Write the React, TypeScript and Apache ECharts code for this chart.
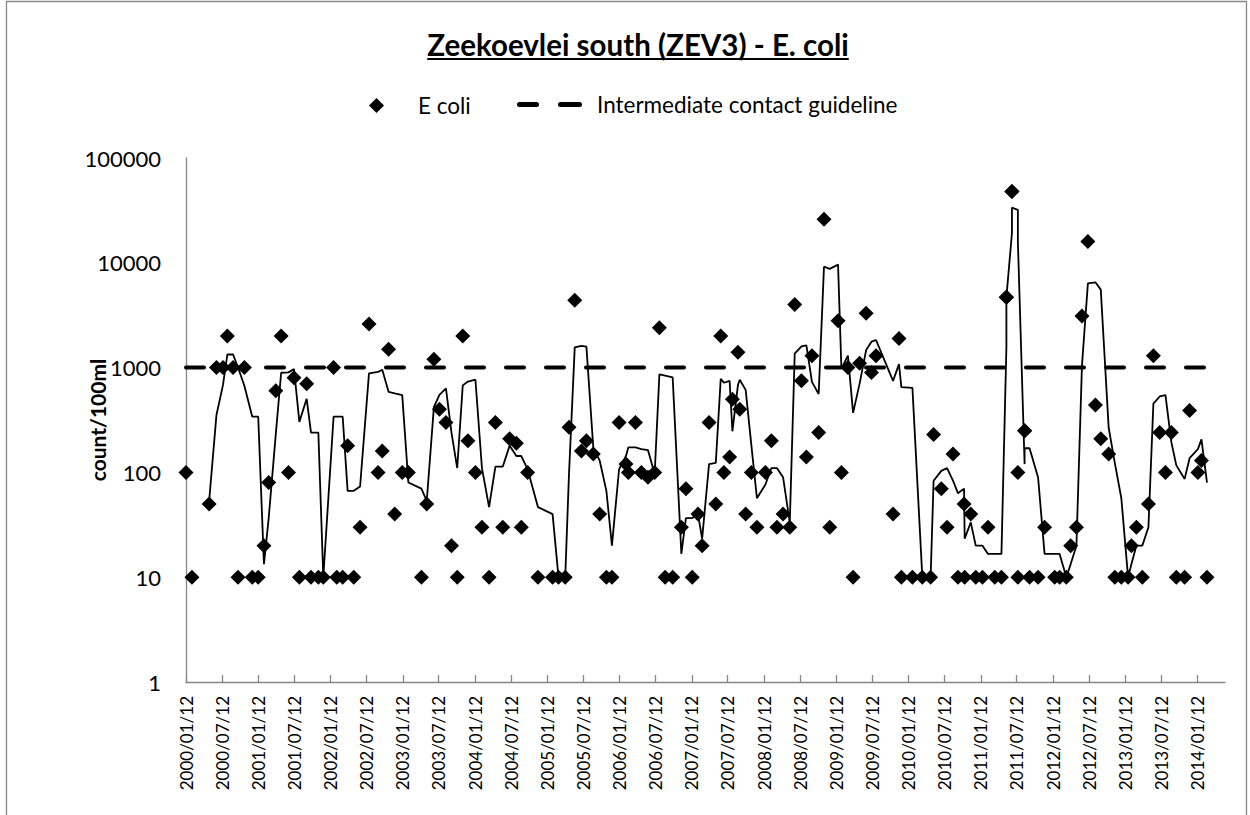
import React, { useEffect, useRef } from "react";
import * as echarts from "echarts";

const chartTitle = "Zeekoevlei south (ZEV3) - E. coli";
const seriesName = "E coli";
const guidelineName = "Intermediate contact guideline";
const yAxisName = "count/100ml";
const guidelineValue = 1000;

const xTickLabels = [
  "2000/01/12", "2000/07/12", "2001/01/12", "2001/07/12", "2002/01/12", "2002/07/12",
  "2003/01/12", "2003/07/12", "2004/01/12", "2004/07/12", "2005/01/12", "2005/07/12",
  "2006/01/12", "2006/07/12", "2007/01/12", "2007/07/12", "2008/01/12", "2008/07/12",
  "2009/01/12", "2009/07/12", "2010/01/12", "2010/07/12", "2011/01/12", "2011/07/12",
  "2012/01/12", "2012/07/12", "2013/01/12", "2013/07/12", "2014/01/12",
];
const xAxisStart = "2000/01/12";
const xAxisEnd = "2014/05/30";

const sampleDates = [
  "2000/01/12", "2000/02/11", "2000/05/08", "2000/06/14", "2000/07/17", "2000/08/08", "2000/09/06", "2000/10/01", "2000/11/02", "2000/12/12",
  "2001/01/11", "2001/02/09", "2001/03/05", "2001/04/10", "2001/05/07", "2001/06/13", "2001/07/11", "2001/08/07", "2001/09/13", "2001/10/05",
  "2001/11/11", "2001/12/06", "2002/01/27", "2002/02/12", "2002/03/14", "2002/04/08", "2002/05/09", "2002/06/10", "2002/07/25", "2002/09/09",
  "2002/09/30", "2002/11/01", "2002/12/02", "2003/01/09", "2003/02/09", "2003/04/16", "2003/05/13", "2003/06/18", "2003/07/16", "2003/08/18",
  "2003/09/15", "2003/10/14", "2003/11/11", "2003/12/07", "2004/01/14", "2004/02/16", "2004/03/23", "2004/04/24", "2004/05/31", "2004/07/05",
  "2004/08/08", "2004/09/02", "2004/10/04", "2004/11/25", "2005/02/07", "2005/03/09", "2005/04/12", "2005/05/01", "2005/05/30", "2005/07/03",
  "2005/07/28", "2005/09/01", "2005/10/03", "2005/11/06", "2005/12/04", "2006/01/09", "2006/02/13", "2006/02/25", "2006/04/02", "2006/05/02",
  "2006/06/04", "2006/07/08", "2006/08/01", "2006/08/30", "2006/10/07", "2006/11/20", "2006/12/13", "2007/01/14", "2007/02/12", "2007/03/05",
  "2007/04/09", "2007/05/13", "2007/06/07", "2007/06/23", "2007/07/22", "2007/08/05", "2007/09/02", "2007/09/11", "2007/10/11", "2007/11/09",
  "2007/12/07", "2008/01/19", "2008/02/18", "2008/03/17", "2008/04/17", "2008/05/21", "2008/06/15", "2008/07/19", "2008/08/13", "2008/09/10",
  "2008/10/14", "2008/11/10", "2008/12/09", "2009/01/20", "2009/02/06", "2009/03/11", "2009/04/06", "2009/05/09", "2009/06/11", "2009/07/08",
  "2009/07/31", "2009/10/25", "2009/11/24", "2009/12/06", "2010/01/31", "2010/03/22", "2010/05/03", "2010/05/18", "2010/06/26", "2010/07/25",
  "2010/08/24", "2010/09/18", "2010/10/19", "2010/10/22", "2010/11/22", "2010/12/17", "2011/01/20", "2011/02/17", "2011/03/23", "2011/04/26",
  "2011/05/21", "2011/05/21", "2011/05/21", "2011/06/18", "2011/06/18", "2011/07/18", "2011/07/18", "2011/08/21", "2011/08/21", "2011/09/15",
  "2011/10/28", "2011/11/30", "2012/01/20", "2012/02/14",
  "2012/03/19", "2012/04/10", "2012/05/09", "2012/06/06", "2012/07/06", "2012/08/13", "2012/09/09", "2012/10/19", "2012/11/19", "2012/12/22",
  "2013/01/25", "2013/02/11", "2013/03/08", "2013/04/07", "2013/05/08", "2013/06/02", "2013/07/04", "2013/08/02", "2013/09/01", "2013/09/26",
  "2013/11/07", "2013/12/02", "2014/01/13", "2014/01/31", "2014/02/28",
];

const eColiCounts = [
  100, 10, 50, 1000, 1000, 2000, 1000, 10, 1000, 10,
  10, 20, 80, 600, 2000, 100, 800, 10, 700, 10,
  10, 10, 1000, 10, 10, 180, 10, 30, 2600, 100,
  160, 1500, 40, 100, 100, 10, 50, 1200, 400, 300,
  20, 10, 2000, 200, 100, 30, 10, 300, 30, 210,
  190, 30, 100, 10, 10, 10, 10, 270, 4400, 160,
  200, 150, 40, 10, 10, 300, 120, 100, 300, 100,
  90, 100, 2400, 10, 10, 30, 70, 10, 40, 20,
  300, 50, 2000, 100, 140, 500, 1400, 400, 40, 100,
  30, 100, 200, 30, 40, 30, 4000, 750, 140, 1300,
  240, 26000, 30, 2800, 100, 1000, 10, 1100, 3300, 900,
  1300, 40, 1900, 10, 10, 10, 10, 230, 70, 30,
  150, 10, 50, 10, 40, 10, 10, 30, 10, 10,
  4700, 4700, 4700, 48000, 48000, 100, 10, 250, 250, 10,
  10, 30, 10, 10,
  10, 20, 30, 3100, 16000, 440, 210, 150, 10, 10,
  10, 20, 30, 10, 50, 1300, 240, 100, 240, 10,
  10, 390, 100, 130, 10,
];

// Excel trendline period ("3 per. Mov. Avg.")
const movingAveragePeriod = 3;

const toTs = (s: string) => {
  const [y, m, d] = s.split("/").map(Number);
  return Date.UTC(y, m - 1, d);
};

const FONT = "Lato";

export default function App() {
  const ref = useRef<HTMLDivElement>(null);

  useEffect(() => {
    if (!ref.current) return;
    const chart = echarts.init(ref.current, undefined, { renderer: "svg" });

    const xMin = toTs(xAxisStart);
    const xMax = toTs(xAxisEnd);
    const tickTs = xTickLabels.map(toTs);
    const tickMap = new Map<number, string>();
    tickTs.forEach((t, i) => tickMap.set(t, xTickLabels[i]));

    const points = sampleDates.map((d, i) => [toTs(d), eColiCounts[i]]);
    const trend: number[][] = [];
    for (let i = movingAveragePeriod - 1; i < eColiCounts.length; i++) {
      let s = 0;
      for (let k = 0; k < movingAveragePeriod; k++) s += eColiCounts[i - k];
      trend.push([toTs(sampleDates[i]), s / movingAveragePeriod]);
    }

    const titleFont = `bold 29.5px ${FONT}`;
    let titleW = 427;
    try {
      const c = document.createElement("canvas").getContext("2d");
      if (c) {
        c.font = titleFont;
        titleW = c.measureText(chartTitle).width;
      }
    } catch (e) {}
    const titleCx = 638;

    chart.setOption({
      animation: false,
      backgroundColor: "#fff",
      textStyle: { fontFamily: FONT },
      grid: { left: 186, top: 158, width: 1039, height: 524, containLabel: false },
      graphic: [
        {
          type: "rect",
          shape: { x: 6.5, y: 1.5, width: 1240, height: 900 },
          style: { fill: "none", stroke: "#898989", lineWidth: 1.3 },
          silent: true,
        },
        {
          type: "text",
          x: titleCx,
          y: 44,
          style: {
            text: chartTitle,
            font: titleFont,
            fill: "#000",
            textAlign: "center",
            textVerticalAlign: "middle",
          },
        },
        {
          type: "line",
          shape: { x1: titleCx - titleW / 2, y1: 59, x2: titleCx + titleW / 2, y2: 59 },
          style: { stroke: "#000", lineWidth: 1.8 },
        },
      ],
      legend: [
        {
          data: [seriesName],
          left: 364,
          top: 89,
          itemWidth: 15,
          itemHeight: 15,
          textStyle: { fontSize: 22.5, color: "#000", fontFamily: FONT, padding: [0, 0, 0, 29] },
        },
        {
          data: [guidelineName],
          left: 512,
          top: 88,
          itemWidth: 65,
          itemHeight: 5,
          icon: "path://M2.5,0H19.5A2.5,2.5 0 0 1 19.5,5H2.5A2.5,2.5 0 0 1 2.5,0ZM43.5,0H62.5A2.5,2.5 0 0 1 62.5,5H43.5A2.5,2.5 0 0 1 43.5,0Z",
          itemStyle: { color: "#000" },
          textStyle: { fontSize: 22.5, color: "#000", fontFamily: FONT, padding: [0, 0, 0, 10] },
        },
      ],
      xAxis: {
        type: "value",
        min: xMin,
        max: xMax,
        splitLine: { show: false },
        axisLine: { show: true, lineStyle: { color: "#868686", width: 1.3 } },
        axisTick: {
          show: true,
          inside: true,
          length: 7,
          customValues: tickTs,
          lineStyle: { color: "#868686", width: 1.3 },
        },
        axisLabel: {
          customValues: tickTs,
          rotate: 90,
          margin: 14,
          fontSize: 17,
          color: "#000",
          fontFamily: FONT,
          formatter: (v: number) => tickMap.get(v) ?? "",
        },
      },
      yAxis: {
        type: "log",
        logBase: 10,
        min: 1,
        max: 100000,
        name: yAxisName,
        nameLocation: "middle",
        nameRotate: 90,
        nameGap: 78,
        nameMoveOverlap: false,
        nameTextStyle: { fontSize: 21, fontWeight: "bold", color: "#000", fontFamily: FONT },
        splitLine: { show: false },
        axisLine: { show: true, lineStyle: { color: "#868686", width: 1.3 } },
        axisTick: { show: false },
        axisLabel: {
          fontSize: 22,
          color: "#000",
          margin: 25,
          fontFamily: FONT,
          formatter: (v: number) => String(Math.round(v)),
        },
      },
      series: [
        {
          name: guidelineName,
          type: "line",
          data: [
            [xMin, guidelineValue],
            [xMax, guidelineValue],
          ],
          symbol: "none",
          showSymbol: false,
          lineStyle: { color: "#000", width: 4, type: [18, 22], cap: "round" },
          itemStyle: { color: "#000" },
          z: 2,
        },
        {
          name: "3 per. Mov. Avg. (E coli)",
          type: "line",
          data: trend,
          symbol: "none",
          showSymbol: false,
          lineStyle: { color: "#000", width: 1.8 },
          itemStyle: { color: "#000" },
          z: 3,
        },
        {
          name: seriesName,
          type: "scatter",
          data: points,
          symbol: "diamond",
          symbolSize: 15,
          itemStyle: { color: "#000", opacity: 1 },
          z: 4,
        },
      ],
    });

    return () => chart.dispose();
  }, []);

  return (
    <div
      ref={ref}
      style={{ position: "fixed", left: 0, top: 0, width: 1250, height: 815, background: "#fff" }}
    />
  );
}
